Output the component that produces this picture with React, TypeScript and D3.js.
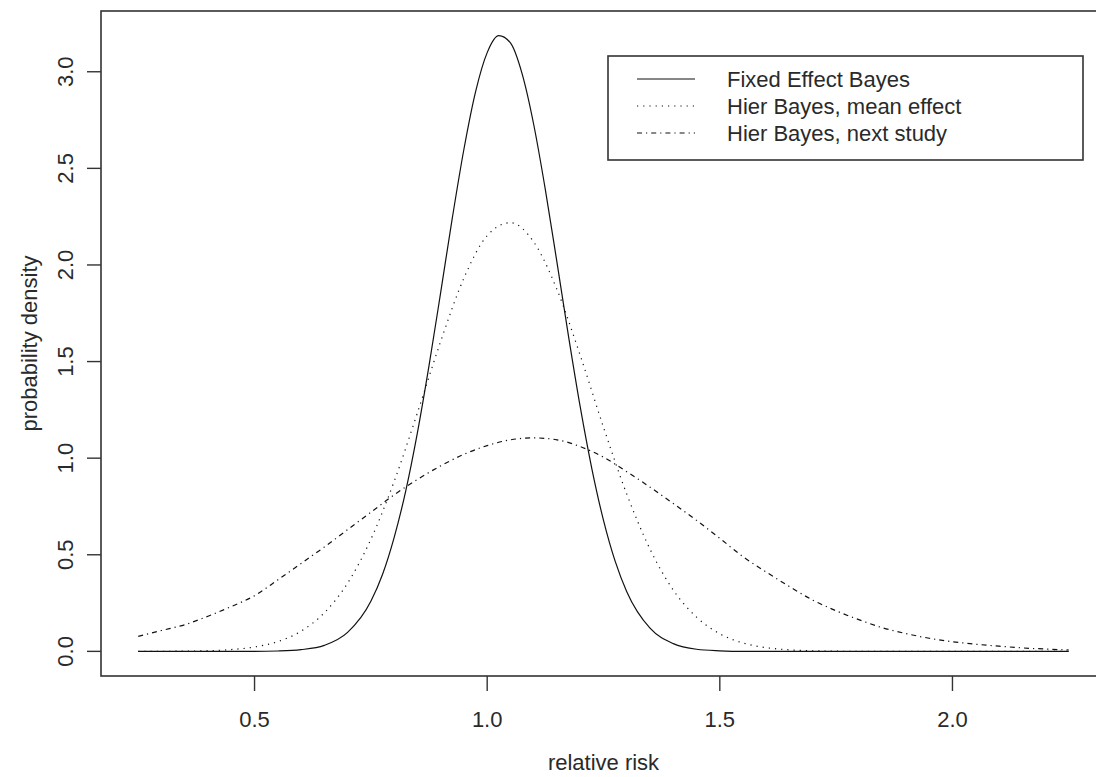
import React from "react";
import * as d3 from "d3";

// Relative-risk grid shared by the two hierarchical posteriors
const relativeRisk = [
  0.25, 0.3, 0.35, 0.4, 0.45, 0.5, 0.55, 0.6, 0.65, 0.7, 0.75, 0.8, 0.85, 0.9,
  0.95, 1.0, 1.05, 1.1, 1.15, 1.2, 1.25, 1.3, 1.35, 1.4, 1.45, 1.5, 1.55, 1.6,
  1.65, 1.7, 1.75, 1.8, 1.85, 1.9, 1.95, 2.0, 2.05, 2.1, 2.15, 2.2, 2.25,
];

// Hierarchical Bayes, posterior of the mean effect
const hierMeanDensity = [
  0.0, 0.0004, 0.0013, 0.0036, 0.0094, 0.0227, 0.0506, 0.1045, 0.1997, 0.353,
  0.58, 0.879, 1.234, 1.604, 1.932, 2.152, 2.219, 2.119, 1.873, 1.532, 1.16,
  0.814, 0.529, 0.317, 0.177, 0.091, 0.0433, 0.0192, 0.0078, 0.003, 0.001, 0,
  0, 0, 0, 0, 0, 0, 0, 0, 0,
];

// Hierarchical Bayes, predictive density for the next study
const hierNextDensity = [
  0.078, 0.108, 0.138, 0.182, 0.232, 0.288, 0.37, 0.455, 0.54, 0.63, 0.72,
  0.81, 0.89, 0.96, 1.02, 1.065, 1.095, 1.105, 1.095, 1.06, 1.005, 0.93, 0.85,
  0.765, 0.678, 0.585, 0.49, 0.41, 0.335, 0.265, 0.21, 0.163, 0.122, 0.092,
  0.068, 0.05, 0.037, 0.027, 0.018, 0.012, 0.007,
];

// Fixed-effect posterior, sampled more finely around its narrow peak
const fixedRisk = [
  0.25, 0.5, 0.55, 0.6, 0.65, 0.7, 0.75, 0.775, 0.8, 0.825, 0.85, 0.875, 0.9,
  0.925, 0.95, 0.975, 1.0, 1.025, 1.05, 1.075, 1.1, 1.125, 1.15, 1.175, 1.2,
  1.225, 1.25, 1.275, 1.3, 1.35, 1.4, 1.45, 1.5, 1.55, 2.25,
];
const fixedDensity = [
  0, 0, 0.002, 0.009, 0.031, 0.098, 0.259, 0.398, 0.589, 0.831, 1.131, 1.479,
  1.857, 2.242, 2.599, 2.896, 3.099, 3.187, 3.149, 2.99, 2.727, 2.39, 2.013,
  1.628, 1.265, 0.945, 0.678, 0.467, 0.309, 0.12, 0.04, 0.011, 0.003, 0, 0,
];

const xTicks = [0.5, 1.0, 1.5, 2.0];
const yTicks = [0.0, 0.5, 1.0, 1.5, 2.0, 2.5, 3.0];
const legendLabels = [
  "Fixed Effect Bayes",
  "Hier Bayes, mean effect",
  "Hier Bayes, next study",
];

const W = 1096;
const H = 777;
const plot = { left: 101, top: 11, right: 1106, bottom: 676 };
const FONT = "'Liberation Sans', Arial, Helvetica, sans-serif";
const INK = "#111";
const TEXT = "#2a2a2a";

type Series = { xs: number[]; ys: number[]; dash: string | undefined };

const series: Series[] = [
  { xs: fixedRisk, ys: fixedDensity, dash: undefined },
  { xs: relativeRisk, ys: hierMeanDensity, dash: "1.2,5" },
  { xs: relativeRisk, ys: hierNextDensity, dash: "5,4,1.2,4" },
];

// Axis limits padded by 4% of the data range on each side
function padded(lo: number, hi: number): [number, number] {
  const d = (hi - lo) * 0.04;
  return [lo - d, hi + d];
}

export default function App() {
  const allX = [...relativeRisk, ...fixedRisk];
  const allY = [...fixedDensity, ...hierMeanDensity, ...hierNextDensity];
  const x = d3
    .scaleLinear()
    .domain(padded(d3.min(allX)!, d3.max(allX)!))
    .range([plot.left, plot.right]);
  const y = d3
    .scaleLinear()
    .domain(padded(0, d3.max(allY)!))
    .range([plot.bottom, plot.top]);

  const line = (s: Series) =>
    d3
      .line<number>()
      .x((_, i) => x(s.xs[i]))
      .y((v) => y(v))
      .curve(d3.curveMonotoneX)(s.ys) || "";

  const fontSize = 22;
  const legend = { left: 608, top: 56, right: 1083, bottom: 160 };
  const legendRow = (i: number) => 79 + i * 27;

  return (
    <div style={{ position: "absolute", left: 0, top: 0 }}>
      <svg width={W} height={H} style={{ display: "block", background: "#fff" }}>
        <rect x={0} y={0} width={W} height={H} fill="#fff" />

        {/* density curves */}
        {series.map((s, i) => (
          <path
            key={i}
            d={line(s)}
            fill="none"
            stroke={INK}
            strokeWidth={1.2}
            strokeDasharray={s.dash}
          />
        ))}

        {/* plot frame */}
        <rect
          x={plot.left}
          y={plot.top}
          width={plot.right - plot.left}
          height={plot.bottom - plot.top}
          fill="none"
          stroke="#333"
          strokeWidth={1.6}
        />

        {/* x axis */}
        {xTicks.map((t) => (
          <g key={t}>
            <line
              x1={x(t)}
              x2={x(t)}
              y1={plot.bottom}
              y2={plot.bottom + 15}
              stroke="#333"
              strokeWidth={1.4}
            />
            <text
              x={x(t)}
              y={727}
              textAnchor="middle"
              fontFamily={FONT}
              fontSize={fontSize}
              fill={TEXT}
            >
              {t.toFixed(1)}
            </text>
          </g>
        ))}
        <text
          x={(plot.left + plot.right) / 2}
          y={770}
          textAnchor="middle"
          fontFamily={FONT}
          fontSize={fontSize}
          fill={TEXT}
        >
          relative risk
        </text>

        {/* y axis */}
        {yTicks.map((t) => (
          <g key={t}>
            <line
              x1={plot.left}
              x2={plot.left - 14}
              y1={y(t)}
              y2={y(t)}
              stroke="#333"
              strokeWidth={1.4}
            />
            <text
              transform={`translate(73,${y(t)}) rotate(-90)`}
              textAnchor="middle"
              fontFamily={FONT}
              fontSize={fontSize}
              fill={TEXT}
            >
              {t.toFixed(1)}
            </text>
          </g>
        ))}
        <text
          transform={`translate(37,${(plot.top + plot.bottom) / 2}) rotate(-90)`}
          textAnchor="middle"
          fontFamily={FONT}
          fontSize={fontSize}
          fill={TEXT}
        >
          probability density
        </text>

        {/* legend */}
        <rect
          x={legend.left}
          y={legend.top}
          width={legend.right - legend.left}
          height={legend.bottom - legend.top}
          fill="#fff"
          stroke="#333"
          strokeWidth={1.6}
        />
        {legendLabels.map((label, i) => (
          <g key={label}>
            <line
              x1={637}
              x2={695}
              y1={legendRow(i)}
              y2={legendRow(i)}
              stroke={INK}
              strokeWidth={1.2}
              strokeDasharray={series[i].dash}
            />
            <text
              x={727}
              y={legendRow(i) + 8}
              fontFamily={FONT}
              fontSize={fontSize}
              fill={TEXT}
            >
              {label}
            </text>
          </g>
        ))}
      </svg>
    </div>
  );
}
